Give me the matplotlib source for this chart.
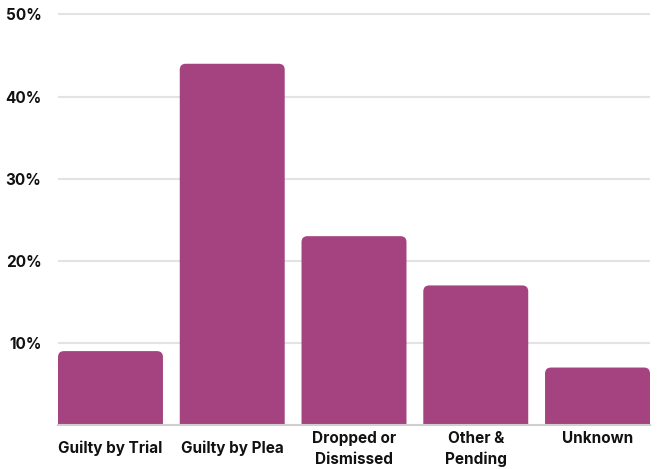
import matplotlib
matplotlib.use("Agg")
import matplotlib.pyplot as plt
from matplotlib.patches import FancyBboxPatch

categories = ["Guilty by Trial", "Guilty by Plea", "Dropped or\nDismissed", "Other &\nPending", "Unknown"]
values = [9.0, 44.0, 23.0, 17.0, 7.0]
yticks = [10, 20, 30, 40, 50]
ytick_labels = ["10%", "20%", "30%", "40%", "50%"]

BAR_COLOR = "#A4437F"
plt.rcParams['font.family'] = ['Inter', 'DejaVu Sans']

fig = plt.figure(figsize=(6.57, 4.69), dpi=100)
ax = fig.add_axes([58/657, 1-425/469, 592/657, (425-13)/469])

width = 0.862
x = list(range(len(categories)))
bars = ax.bar(x, values, width=width, color=BAR_COLOR, zorder=3)

ax.set_xlim(-width/2, len(categories) - 1 + width/2)
ymax = 50 + 1.5/8.21
ax.set_ylim(0, ymax)

# replace rectangles with top-rounded patches
fig.canvas.draw()
px_per_x = ax.transData.transform((1, 0))[0] - ax.transData.transform((0, 0))[0]
px_per_y = ax.transData.transform((0, 1))[1] - ax.transData.transform((0, 0))[1]
r_px = 6
rx = r_px / px_per_x
ry = r_px / px_per_y
for b in bars:
    bx, bw, bh = b.get_x(), b.get_width(), b.get_height()
    b.set_visible(False)
    p = FancyBboxPatch((bx, -2*ry), bw, bh + 2*ry,
                       boxstyle=f"round,pad=0,rounding_size={rx}",
                       mutation_aspect=ry/rx,
                       facecolor=BAR_COLOR, edgecolor="none", zorder=3)
    ax.add_patch(p)

ax.set_yticks(yticks)
ax.set_yticklabels(ytick_labels, fontsize=11, fontweight='bold', color='#111111')
ax.set_xticks(x)
ax.set_xticklabels(categories, fontsize=11, fontweight='bold', color='#111111', linespacing=1.5)
ax.tick_params(axis='y', length=0, pad=12)
ax.tick_params(axis='x', length=0, pad=4)
pads = [11, 11, 4, 4, 4]
for t, pd in zip(ax.xaxis.get_major_ticks(), pads):
    t.set_pad(pd)

ax.grid(axis='y', color='#e3e3e3', linewidth=1.5, zorder=0)
ax.set_axisbelow(True)
for s in ['top', 'right', 'left']:
    ax.spines[s].set_visible(False)
ax.spines['bottom'].set_color('#cfcfcf')
ax.spines['bottom'].set_linewidth(1.5)
ax.spines['bottom'].set_zorder(4)

fig.savefig("out.png", dpi=100, facecolor='white')
